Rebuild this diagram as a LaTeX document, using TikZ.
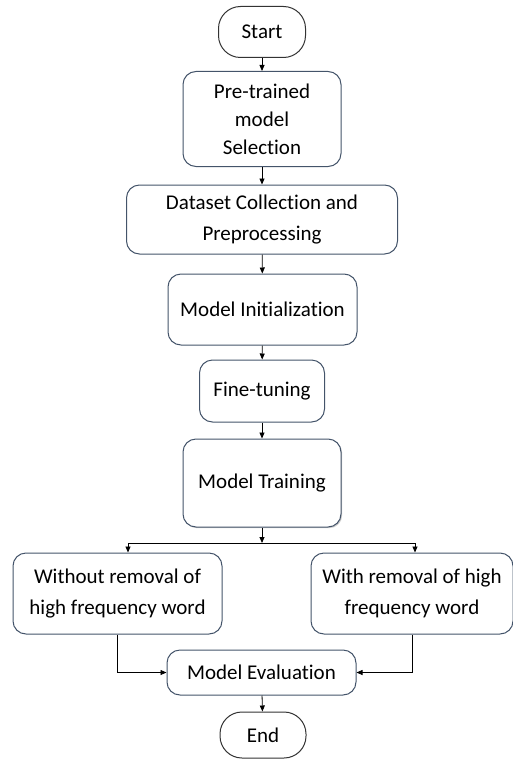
\documentclass[tikz,border=0pt]{standalone}
\usepackage{fontspec}
\setmainfont[Ligatures={NoCommon}]{Carlito}
\usepackage{tikz}
\usetikzlibrary{arrows.meta, shadows}

\definecolor{boxline}{RGB}{68,84,106}

\begin{document}
\begin{tikzpicture}[
        x=1pt, y=-1pt,
        terminal/.style={draw=black!80, line width=1pt, rounded corners=22pt, inner sep=0pt, align=center, font=\fontsize{21}{31}\selectfont},
        process/.style={draw=boxline, line width=1pt, rounded corners=13pt, inner sep=0pt, align=center, font=\fontsize{21}{31}\selectfont},
        flow/.style={-{Triangle[length=6pt, width=5pt]}, line width=0.8pt}
    ]

    \useasboundingbox (0,0) rectangle (513,760);

    % Steps - positioned with coordinates
    \node[terminal, minimum width=87pt, minimum height=51pt] (start) at (262,32) {Start};
    \node[process, minimum width=158pt, minimum height=95pt, font=\fontsize{21}{28}\selectfont] (pretrained) at (262,119) {Pre-trained\\model\\Selection};
    \node[process, minimum width=271pt, minimum height=69pt] (dataset) at (262,219.5) {Dataset Collection and\\Preprocessing};
    \node[process, minimum width=189pt, minimum height=71pt] (init) at (262.5,309.5) {Model Initialization};
    \node[process, minimum width=125pt, minimum height=62pt] (finetune) at (262,391) {Fine-tuning};
    \node[process, minimum width=158pt, minimum height=88pt, fill=white, drop shadow={shadow xshift=1.2pt, shadow yshift=-1.2pt, opacity=0.4}] (training) at (262,483) {Model Training};
    \node[process, minimum width=209pt, minimum height=81pt] (without) at (117.5,593.5) {Without removal of\\high frequency word};
    \node[process, minimum width=202pt, minimum height=81pt] (with) at (412,593.5) {With removal of high\\frequency word};
    \node[process, minimum width=189pt, minimum height=45pt] (eval) at (261.5,672.5) {Model Evaluation};
    \node[terminal, minimum width=86pt, minimum height=46pt] (end) at (263,735) {End};

    % Split points
    \coordinate (split) at (262,543);
    \coordinate (splitl) at (128,543);
    \coordinate (splitr) at (415,543);

    % Connectors
    \draw[flow] (start) -- (pretrained);
    \draw[flow] (pretrained) -- (dataset);
    \draw[flow] (dataset) -- (init);
    \draw[flow] (init) -- (finetune);
    \draw[flow] (finetune) -- (training);
    \draw[flow] (training) -- (split);
    \draw[line width=0.8pt] (splitl) -- (splitr);
    \draw[flow] (splitl) -- (splitl |- without.north);
    \draw[flow] (splitr) -- (splitr |- with.north);
    \draw[flow] (without.south) |- (eval.west);
    \draw[flow] (with.south) |- (eval.east);
    \draw[flow] (eval) -- (end);

\end{tikzpicture}
\end{document}
